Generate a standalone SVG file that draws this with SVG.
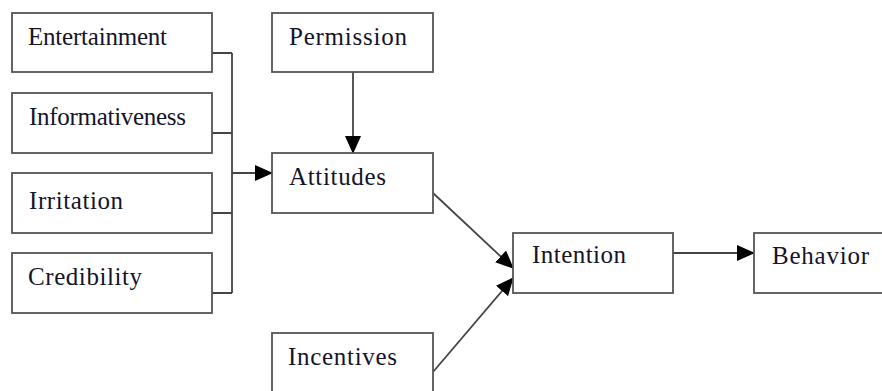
<svg xmlns="http://www.w3.org/2000/svg" width="882" height="391" viewBox="0 0 882 391">
<style>
.box{fill:#fff;stroke:#555;stroke-width:1.8}
.lbl{font-family:"Liberation Serif","Times New Roman",serif;font-size:25px;fill:#14142a}
.ln{fill:none;stroke:#444;stroke-width:1.8}
</style>
<defs>
<marker id="ah" markerUnits="userSpaceOnUse" markerWidth="18" markerHeight="16" viewBox="0 0 18 16" refX="17" refY="8" orient="auto">
<path d="M0,0 L18,8 L0,16 Z" fill="#000"/>
</marker>
</defs>
<rect width="882" height="391" fill="#fff"/>
<g id="connectors">
<path class="ln" d="M212,53 H232 M212,133 H232 M212,213 H232 M212,293 H232 M232,53 V293"/>
<line class="ln" x1="232" y1="173" x2="272" y2="173" marker-end="url(#ah)"/>
<line class="ln" x1="353" y1="72" x2="353" y2="153" marker-end="url(#ah)"/>
<line class="ln" x1="433" y1="193" x2="513" y2="268" marker-end="url(#ah)"/>
<line class="ln" x1="433" y1="372" x2="513" y2="278" marker-end="url(#ah)"/>
<line class="ln" x1="673" y1="253" x2="754" y2="253" marker-end="url(#ah)"/>
</g>
<g id="entertainment"><rect class="box" x="12" y="13" width="200" height="59"/><text class="lbl" x="28" y="45" textLength="139">Entertainment</text></g>
<g id="informativeness"><rect class="box" x="12" y="93" width="200" height="60"/><text class="lbl" x="29" y="125" textLength="157">Informativeness</text></g>
<g id="irritation"><rect class="box" x="12" y="173" width="200" height="60"/><text class="lbl" x="29" y="209" textLength="94">Irritation</text></g>
<g id="credibility"><rect class="box" x="12" y="253" width="200" height="60"/><text class="lbl" x="28" y="285" textLength="114">Credibility</text></g>
<g id="permission"><rect class="box" x="272" y="13" width="161" height="59"/><text class="lbl" x="289" y="45" textLength="118">Permission</text></g>
<g id="attitudes"><rect class="box" x="272" y="153" width="161" height="60"/><text class="lbl" x="289" y="185" textLength="97">Attitudes</text></g>
<g id="incentives"><rect class="box" x="272" y="333" width="161" height="62"/><text class="lbl" x="288" y="365" textLength="109">Incentives</text></g>
<g id="intention"><rect class="box" x="513" y="233" width="160" height="60"/><text class="lbl" x="532" y="263" textLength="94">Intention</text></g>
<g id="behavior"><rect class="box" x="754" y="233" width="140" height="60"/><text class="lbl" x="772" y="264" textLength="97">Behavior</text></g>
</svg>
